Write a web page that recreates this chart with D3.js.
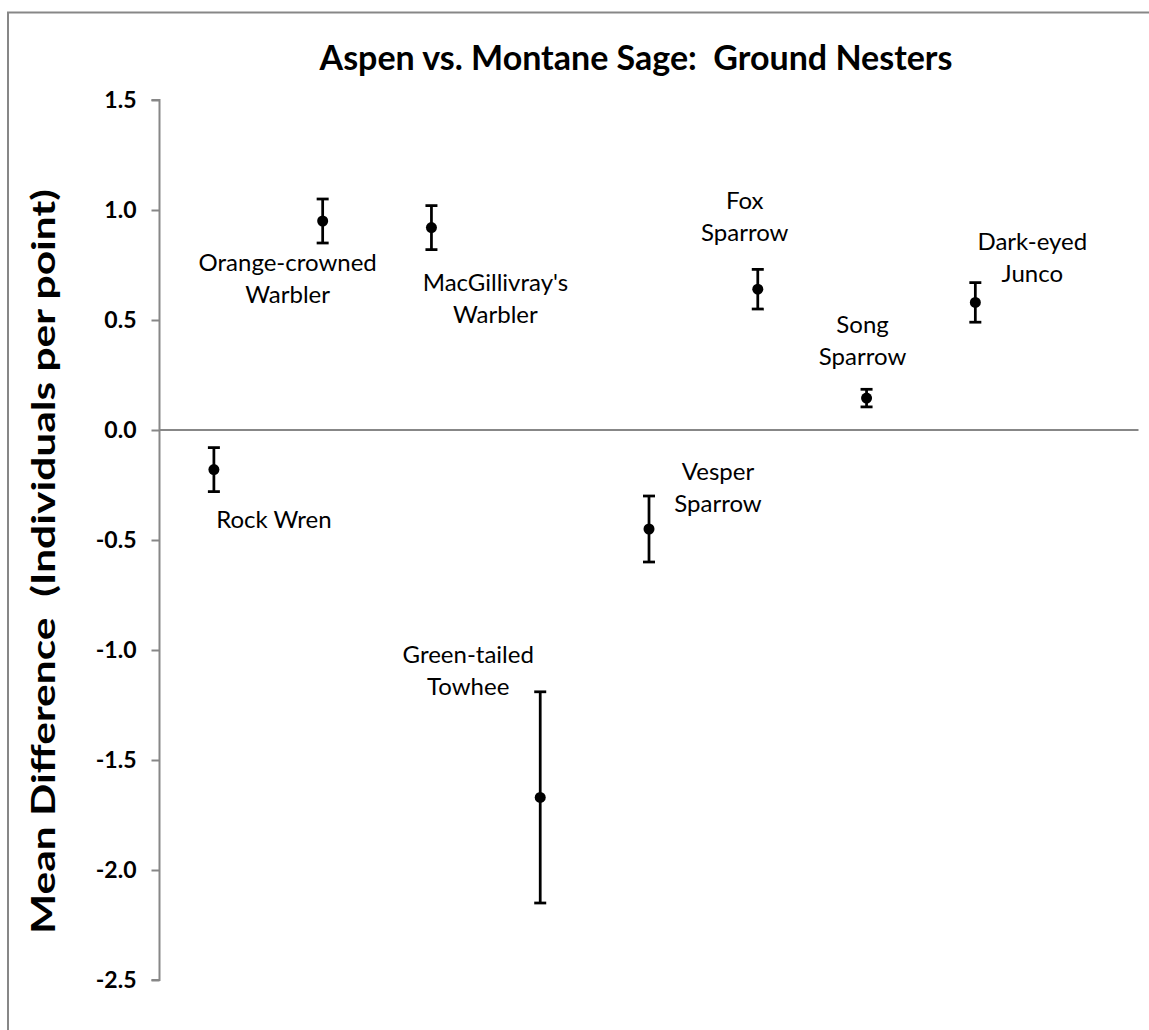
<!DOCTYPE html>
<html>
<head>
<meta charset="utf-8">
<script src="https://cdn.jsdelivr.net/npm/d3@7"></script>
<style>
  html, body { margin: 0; padding: 0; background: #fff; }
  svg { display: block; }
  text { white-space: pre; }
</style>
</head>
<body>
<svg id="chart" width="1149" height="1030"></svg>
<script>
// Species (upper line / lower line of each label)
const species = [
  ["Rock Wren"],
  ["Orange-crowned", "Warbler"],
  ["MacGillivray's", "Warbler"],
  ["Green-tailed", "Towhee"],
  ["Vesper", "Sparrow"],
  ["Fox", "Sparrow"],
  ["Song", "Sparrow"],
  ["Dark-eyed", "Junco"]
];
// Mean difference, aspen minus montane sage (individuals per point)
const meanDiff = [-0.18, 0.95, 0.92, -1.67, -0.45, 0.64, 0.145, 0.58];
// Standard error for each mean
const stdErr = [0.10, 0.10, 0.10, 0.48, 0.15, 0.09, 0.04, 0.09];
// Y axis tick values
const yTicks = [1.5, 1.0, 0.5, 0.0, -0.5, -1.0, -1.5, -2.0, -2.5];

// Where each species label sits relative to its point (px)
const labelOffset = [
  [60, 58], [-35, 50], [64, 63], [-72, -134],
  [69, -49], [-13, -80], [-4, -65], [57, -52]
];

const svg = d3.select("#chart");
const grey = "#878787";
const font = "Lato, 'Open Sans', sans-serif";
const plotLeft = 159.5, plotRight = 1138.5, plotTop = 100, plotBottom = 980;

// Outer chart frame
svg.append("rect")
  .attr("x", 8).attr("y", 12.5)
  .attr("width", 1160).attr("height", 1040)
  .attr("fill", "none").attr("stroke", grey).attr("stroke-width", 2);

const x = d3.scaleLinear().domain([0, species.length + 1]).range([plotLeft, plotRight]);
const y = d3.scaleLinear().domain([1.5, -2.5]).range([plotTop, plotBottom]);

// Title
svg.append("text")
  .attr("x", 636).attr("y", 69.5)
  .attr("text-anchor", "middle")
  .attr("font-family", font)
  .attr("font-weight", 700)
  .attr("font-size", 34)
  .attr("fill", "#000")
  .text("Aspen vs. Montane Sage:  Ground Nesters");

// Y axis
const yAxis = d3.axisLeft(y)
  .tickValues(yTicks)
  .tickSize(8)
  .tickPadding(15)
  .tickFormat(d => d3.format(".1f")(d).replace("\u2212", "-"));

const gy = svg.append("g")
  .attr("transform", `translate(${plotLeft},0)`)
  .call(yAxis);
gy.select(".domain").attr("stroke", grey).attr("stroke-width", 2)
  .attr("d", `M-8,${plotTop}H0V${plotBottom}H-8`);
gy.selectAll(".tick line").attr("stroke", grey).attr("stroke-width", 2);
gy.selectAll(".tick text")
  .attr("font-family", font)
  .attr("font-weight", 700)
  .attr("font-size", 23)
  .attr("fill", "#000");

// Zero line
svg.append("line")
  .attr("x1", plotLeft).attr("x2", plotRight)
  .attr("y1", y(0)).attr("y2", y(0))
  .attr("stroke", grey).attr("stroke-width", 2);

// Y axis title
svg.append("text")
  .attr("transform", `translate(55,561.5) rotate(-90)`)
  .attr("text-anchor", "middle")
  .attr("font-family", font)
  .attr("font-weight", 700)
  .attr("font-size", 32)
  .attr("textLength", 745)
  .attr("lengthAdjust", "spacingAndGlyphs")
  .attr("fill", "#000")
  .text("Mean Difference  (Individuals per point)");

// Error bars, points and labels
const rows = species.map((s, i) => ({ name: s, mean: meanDiff[i], se: stdErr[i], i }));
const g = svg.append("g");
const capHalf = 6;

const pt = g.selectAll("g.pt").data(rows).join("g").attr("class", "pt");
pt.append("line")
  .attr("x1", d => x(d.i + 0.5)).attr("x2", d => x(d.i + 0.5))
  .attr("y1", d => y(d.mean + d.se)).attr("y2", d => y(d.mean - d.se))
  .attr("stroke", "#000").attr("stroke-width", 2.75);
pt.append("line")
  .attr("x1", d => x(d.i + 0.5) - capHalf).attr("x2", d => x(d.i + 0.5) + capHalf)
  .attr("y1", d => y(d.mean + d.se)).attr("y2", d => y(d.mean + d.se))
  .attr("stroke", "#000").attr("stroke-width", 2.75);
pt.append("line")
  .attr("x1", d => x(d.i + 0.5) - capHalf).attr("x2", d => x(d.i + 0.5) + capHalf)
  .attr("y1", d => y(d.mean - d.se)).attr("y2", d => y(d.mean - d.se))
  .attr("stroke", "#000").attr("stroke-width", 2.75);
pt.append("circle")
  .attr("cx", d => x(d.i + 0.5)).attr("cy", d => y(d.mean))
  .attr("r", 5.5).attr("fill", "#000");

const lab = pt.append("text")
  .attr("text-anchor", "middle")
  .attr("font-family", font)
  .attr("font-size", 24)
  .attr("fill", "#000");
lab.each(function(d) {
  const t = d3.select(this);
  const lx = x(d.i + 0.5) + labelOffset[d.i][0];
  const ly = y(d.mean) + labelOffset[d.i][1];
  d.name.forEach((line, k) => {
    t.append("tspan").attr("x", lx).attr("y", ly + k * 32).text(line);
  });
});
</script>
</body>
</html>
